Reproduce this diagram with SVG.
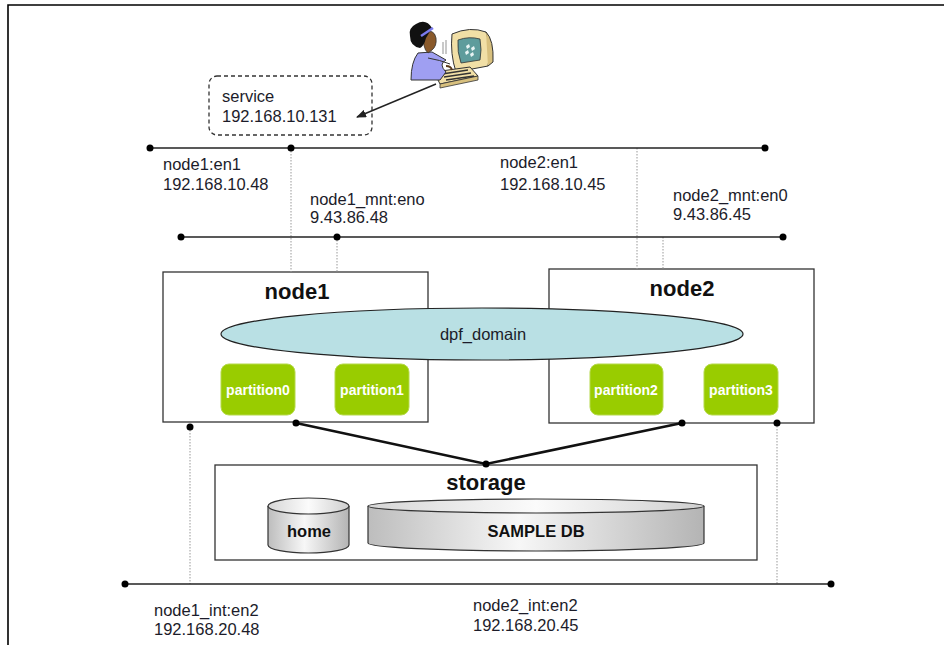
<svg xmlns="http://www.w3.org/2000/svg" width="944" height="645" viewBox="0 0 944 645">
  <style>
    text { font-family: "Liberation Sans", Arial, sans-serif; fill: #1c1c2a; }
    .lbl { font-size: 16.5px; }
    .title { font-size: 22px; font-weight: bold; fill: #111; text-anchor: middle; }
    .part rect { fill: #99cc00; stroke: #b5d94a; stroke-width: 1; }
    .part text { font-size: 14px; font-weight: bold; fill: #ffffff; text-anchor: middle; }
    .box { fill: #ffffff; stroke: #333; stroke-width: 1.3; }
    .net { stroke: #222; stroke-width: 1.6; fill: none; }
    .drop { stroke: #999; stroke-width: 1; stroke-dasharray: 1.5 1.5; fill: none; }
    .dot { fill: #000; }
    .disk text { font-size: 16.5px; font-weight: bold; fill: #111; text-anchor: middle; }
  </style>
  <defs>
    <linearGradient id="cyl" x1="0" y1="0" x2="1" y2="0">
      <stop offset="0" stop-color="#bdbdbd"/>
      <stop offset="0.45" stop-color="#f7f7f7"/>
      <stop offset="1" stop-color="#b4b4b4"/>
    </linearGradient>
    <linearGradient id="cyltop" x1="0" y1="0" x2="1" y2="0">
      <stop offset="0" stop-color="#d6d6d6"/>
      <stop offset="0.5" stop-color="#fbfbfb"/>
      <stop offset="1" stop-color="#cfcfcf"/>
    </linearGradient>
    <marker id="arrow" markerWidth="10" markerHeight="8" refX="9" refY="4" orient="auto" markerUnits="userSpaceOnUse">
      <path d="M0,0 L10,4 L0,8 Z" fill="#222"/>
    </marker>
  </defs>

  <!-- page frame -->
  <path d="M8,645 V5 H944" fill="none" stroke="#000" stroke-width="1.6"/>

  <!-- client workstation -->
  <g id="client">
    <!-- monitor -->
    <path d="M452,34 Q470,26 486,32 Q492,48 488,66 L456,72 Q450,54 452,34 Z" fill="#f1dfa6" stroke="#333" stroke-width="1"/>
    <path d="M486,32 Q494,40 493,62 L488,66" fill="#d8c07e" stroke="#333" stroke-width="1"/>
    <path d="M458,40 Q469,36 480,39 Q482,50 480,60 L461,63 Q457,52 458,40 Z" fill="#5e9c9c" stroke="#333" stroke-width="0.8"/>
    <path d="M466,46 l3,-2 l1,3 l-3,2 Z M471,48 l3,-2 l1,3 l-3,2 Z M465,52 l3,-2 l1,3 l-3,2 Z M470,54 l3,-2 l1,3 l-3,2 Z" fill="#e8f4f4"/>
    <!-- keyboard -->
    <path d="M434,72 L470,67 L478,76 L440,84 Z" fill="#f1dfa6" stroke="#333" stroke-width="1"/>
    <path d="M440,84 L478,76 L478,80 L440,88 Z" fill="#d8c07e" stroke="#333" stroke-width="0.8"/>
    <path d="M442,74 L468,70 M444,77 L471,73 M446,80 L474,76" stroke="#333" stroke-width="1.4"/>
    <!-- person -->
    <path d="M418,53 Q411,62 411,80 L440,80 L446,72 Q438,64 446,60 L432,52 Z" fill="#9f9ff2" stroke="#333" stroke-width="1"/>
    <path d="M428,58 Q440,60 450,64" fill="none" stroke="#333" stroke-width="1"/>
    <path d="M424,33 Q434,28 436,38 Q437,46 432,50 L428,53 Q422,48 424,33 Z" fill="#8a5a2b" stroke="#333" stroke-width="0.8"/>
    <path d="M416,24 Q426,18 432,28 L426,38 Q424,46 420,48 Q410,46 410,36 Q408,28 416,24 Z" fill="#111"/>
    <path d="M421,36 L433,28" stroke="#7b7bee" stroke-width="2.5"/>
    <path d="M446,66 Q451,66 452,70" fill="none" stroke="#5a3a1b" stroke-width="2"/>
    <path d="M443,42 V54 M446,40 V54" stroke="#666" stroke-width="0.7"/>
  </g>

  <!-- service address -->
  <g id="service">
    <rect x="209" y="76" width="163" height="59" rx="8" fill="#fff" stroke="#333" stroke-width="1.3" stroke-dasharray="4 3"/>
    <text class="lbl" x="222" y="102">service</text>
    <text class="lbl" x="222" y="122">192.168.10.131</text>
  </g>

  <!-- nodes -->
  <g id="node1">
    <rect class="box" x="163" y="272" width="265" height="150"/>
    <text class="title" x="297" y="299">node1</text>
  </g>
  <g id="node2">
    <rect class="box" x="549" y="269" width="265" height="154"/>
    <text class="title" x="682" y="296">node2</text>
  </g>

  <g id="dpf_domain">
    <ellipse cx="482" cy="334" rx="261" ry="26" fill="#b9e0e4" stroke="#222" stroke-width="1.2"/>
    <text class="lbl" x="483" y="340" text-anchor="middle">dpf_domain</text>
  </g>

  <g id="partition0" class="part">
    <rect x="221" y="364" width="74" height="51" rx="8"/>
    <text x="258" y="395">partition0</text>
  </g>
  <g id="partition1" class="part">
    <rect x="335" y="364" width="74" height="51" rx="8"/>
    <text x="372" y="395">partition1</text>
  </g>
  <g id="partition2" class="part">
    <rect x="590" y="364" width="73" height="51" rx="8"/>
    <text x="626" y="395">partition2</text>
  </g>
  <g id="partition3" class="part">
    <rect x="704" y="364" width="74" height="51" rx="8"/>
    <text x="741" y="395">partition3</text>
  </g>

  <!-- shared storage -->
  <g id="storage">
    <rect class="box" x="215" y="465" width="542" height="95"/>
    <text class="title" x="486" y="490">storage</text>
  </g>
  <g id="home" class="disk">
    <path d="M268,506 V545 A40.5,8 0 0 0 349,545 V506" fill="url(#cyl)" stroke="#333" stroke-width="1.2"/>
    <ellipse cx="308.5" cy="506" rx="40.5" ry="8" fill="url(#cyltop)" stroke="#333" stroke-width="1.2"/>
    <text x="309" y="537">home</text>
  </g>
  <g id="sampledb" class="disk">
    <path d="M368,506 V543 A168,8 0 0 0 704,543 V506" fill="url(#cyl)" stroke="#333" stroke-width="1.2"/>
    <ellipse cx="536" cy="506" rx="168" ry="7" fill="url(#cyltop)" stroke="#333" stroke-width="1.2"/>
    <text x="536" y="537">SAMPLE DB</text>
  </g>

  <!-- network labels -->
  <g id="labels">
    <text class="lbl" x="163" y="170">node1:en1</text>
    <text class="lbl" x="163" y="190">192.168.10.48</text>
    <text class="lbl" x="500" y="168">node2:en1</text>
    <text class="lbl" x="500" y="190">192.168.10.45</text>
    <text class="lbl" x="310" y="205">node1_mnt:eno</text>
    <text class="lbl" x="310" y="223">9.43.86.48</text>
    <text class="lbl" x="673" y="201">node2_mnt:en0</text>
    <text class="lbl" x="673" y="220">9.43.86.45</text>
    <text class="lbl" x="154" y="616">node1_int:en2</text>
    <text class="lbl" x="154" y="635">192.168.20.48</text>
    <text class="lbl" x="473" y="611">node2_int:en2</text>
    <text class="lbl" x="473" y="631">192.168.20.45</text>
  </g>

  <!-- networks and links -->
  <g id="connectors">
    <line x1="436" y1="84" x2="357" y2="117" stroke="#222" stroke-width="1.4" marker-end="url(#arrow)"/>

    <line class="drop" x1="291" y1="148" x2="291" y2="272"/>
    <line class="drop" x1="337" y1="237" x2="337" y2="272"/>
    <line class="drop" x1="637" y1="148" x2="637" y2="269"/>
    <line class="drop" x1="663" y1="237" x2="663" y2="269"/>
    <line class="drop" x1="190" y1="427" x2="190" y2="584"/>
    <line class="drop" x1="777" y1="423" x2="777" y2="584"/>

    <line class="net" x1="150" y1="148" x2="765" y2="148"/>
    <line class="net" x1="181" y1="237" x2="783" y2="237"/>
    <line class="net" x1="125" y1="584" x2="831" y2="584" stroke="#444" stroke-width="2"/>

    <polyline points="296,423 486,464 682,423" fill="none" stroke="#111" stroke-width="2.6"/>

    <circle class="dot" cx="150" cy="148" r="3.5"/>
    <circle class="dot" cx="291" cy="148" r="3.5"/>
    <circle class="dot" cx="765" cy="148" r="3.5"/>
    <circle class="dot" cx="181" cy="237" r="3.5"/>
    <circle class="dot" cx="337" cy="237" r="3.5"/>
    <circle class="dot" cx="783" cy="237" r="3.5"/>
    <circle class="dot" cx="125" cy="584" r="3.5"/>
    <circle class="dot" cx="831" cy="584" r="3.5"/>
    <circle class="dot" cx="190" cy="427" r="3.5"/>
    <circle class="dot" cx="296" cy="423" r="3.5"/>
    <circle class="dot" cx="682" cy="423" r="3.5"/>
    <circle class="dot" cx="777" cy="423" r="3.5"/>
    <circle class="dot" cx="486" cy="464" r="3.5"/>
  </g>
</svg>
